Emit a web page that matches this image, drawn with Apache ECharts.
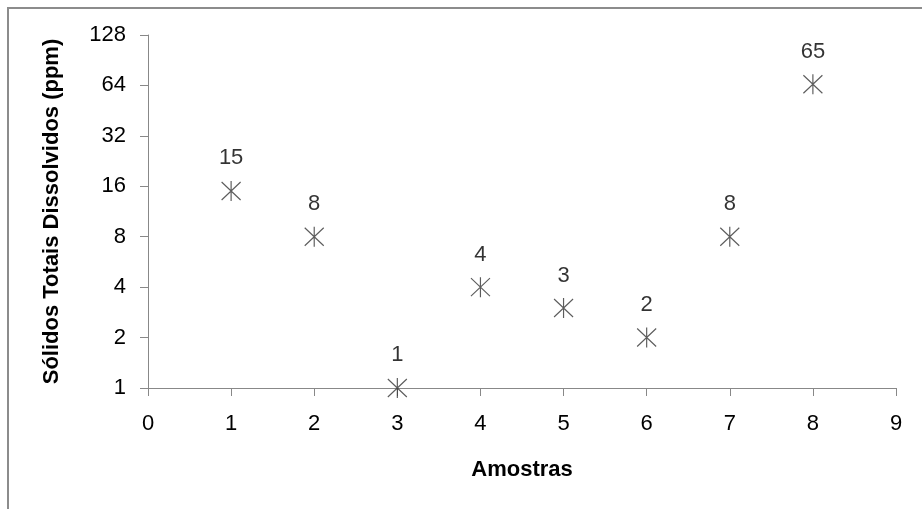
<!DOCTYPE html>
<html>
<head>
<meta charset="utf-8">
<script src="https://cdn.jsdelivr.net/npm/echarts@6/dist/echarts.min.js"></script>
<style>
  html, body { margin: 0; padding: 0; background: #fff; }
  #chart { width: 922px; height: 509px; }
</style>
</head>
<body>
<div id="chart"></div>
<script>
// Sample numbers and total dissolved solids (ppm)
const amostras = [1, 2, 3, 4, 5, 6, 7, 8];
const solidos = [15, 8, 1, 4, 3, 2, 8, 65];
const xTicks = [0, 1, 2, 3, 4, 5, 6, 7, 8, 9];
const yTicks = [1, 2, 4, 8, 16, 32, 64, 128];

const font = '"Liberation Sans", Arial, sans-serif';
const axisGray = '#888888';

// Asterisk marker: vertical stroke plus an X
const asterisk = 'path://M0,-10L0,10M-9.5,-9L9.5,9M-9.5,9L9.5,-9';

const chart = echarts.init(document.getElementById('chart'), null, { renderer: 'canvas' });

chart.setOption({
  animation: false,
  backgroundColor: '#ffffff',
  grid: { left: 148, top: 35, right: 26, bottom: 121, containLabel: false },
  xAxis: {
    type: 'value',
    min: xTicks[0],
    max: xTicks[xTicks.length - 1],
    interval: 1,
    name: 'Amostras',
    nameLocation: 'middle',
    nameGap: 71,
    nameTextStyle: { fontFamily: font, fontSize: 22, fontWeight: 'bold', color: '#000' },
    axisLine: { lineStyle: { color: axisGray, width: 1 } },
    axisTick: { show: true, inside: false, length: 8, lineStyle: { color: axisGray } },
    axisLabel: { fontFamily: font, fontSize: 22, color: '#000', margin: 25 },
    splitLine: { show: false }
  },
  yAxis: {
    type: 'log',
    logBase: 2,
    min: yTicks[0],
    max: yTicks[yTicks.length - 1],
    interval: 1,
    name: 'Sólidos Totais Dissolvidos (ppm)',
    nameLocation: 'middle',
    nameGap: 85,
    nameTextStyle: { fontFamily: font, fontSize: 22, fontWeight: 'bold', color: '#000' },
    axisLine: { show: true, lineStyle: { color: axisGray, width: 1 } },
    axisTick: { show: true, inside: false, length: 8, lineStyle: { color: axisGray } },
    axisLabel: { fontFamily: font, fontSize: 22, color: '#000', margin: 22 },
    splitLine: { show: false }
  },
  graphic: [{
    type: 'rect',
    shape: { x: 8, y: 8, width: 940, height: 540 },
    style: { fill: 'none', stroke: '#8c8c8c', lineWidth: 2 },
    silent: true,
    z: -1
  }],
  series: [{
    type: 'scatter',
    data: amostras.map((a, i) => [a, solidos[i]]),
    symbol: asterisk,
    symbolSize: [19, 20],
    itemStyle: { color: 'transparent', borderColor: '#333333', borderWidth: 1.2 },
    label: {
      show: true,
      position: 'top',
      distance: 11,
      formatter: p => String(p.value[1]),
      fontFamily: font,
      fontSize: 22,
      color: '#000'
    }
  }]
});
</script>
</body>
</html>
